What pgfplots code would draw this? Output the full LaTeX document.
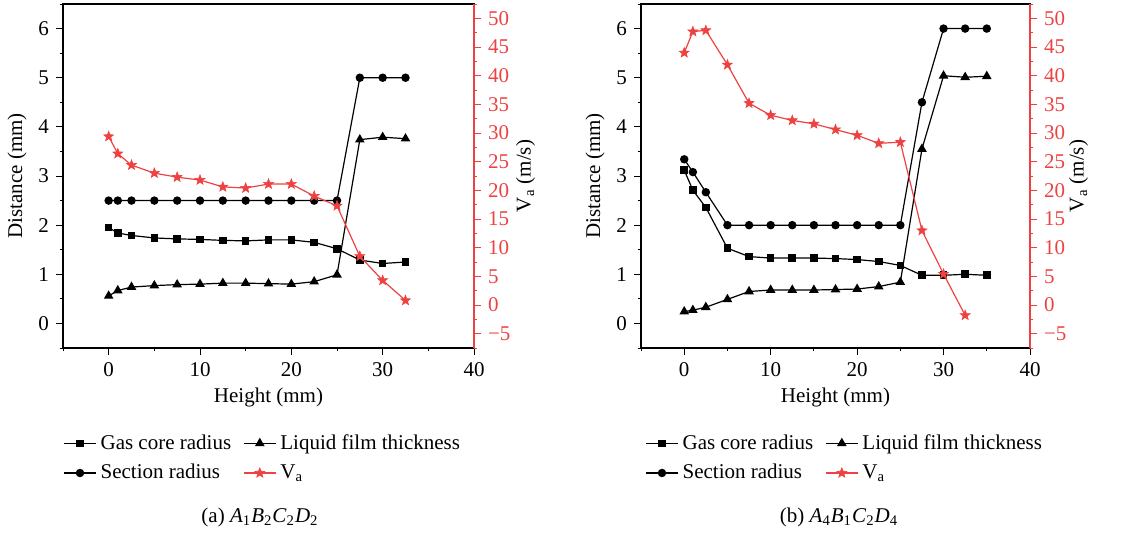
\documentclass[border=0pt]{standalone}
\usepackage{fontspec}
\setmainfont{Liberation Serif}
\usepackage{pgfplots}
\usepackage{pgfplotstable}
\pgfplotsset{compat=1.18}
\definecolor{vred}{RGB}{238,66,66}

\pgfdeclareplotmark{fstar}{%
  \pgfpathmoveto{\pgfpointpolar{90}{\pgfplotmarksize}}%
  \pgfpathlineto{\pgfpointpolar{126}{0.42\pgfplotmarksize}}%
  \pgfpathlineto{\pgfpointpolar{162}{\pgfplotmarksize}}%
  \pgfpathlineto{\pgfpointpolar{198}{0.42\pgfplotmarksize}}%
  \pgfpathlineto{\pgfpointpolar{234}{\pgfplotmarksize}}%
  \pgfpathlineto{\pgfpointpolar{270}{0.42\pgfplotmarksize}}%
  \pgfpathlineto{\pgfpointpolar{306}{\pgfplotmarksize}}%
  \pgfpathlineto{\pgfpointpolar{342}{0.42\pgfplotmarksize}}%
  \pgfpathlineto{\pgfpointpolar{18}{\pgfplotmarksize}}%
  \pgfpathlineto{\pgfpointpolar{54}{0.42\pgfplotmarksize}}%
  \pgfpathclose
  \pgfusepathqfillstroke}

\pgfplotstableread{
h    g     l     s     v
0    1.95  0.56  2.5   29.4
1    1.84  0.67  2.5   26.4
2.5  1.79  0.74  2.5   24.4
5    1.74  0.77  2.5   23.0
7.5  1.72  0.79  2.5   22.3
10   1.71  0.80  2.5   21.8
12.5 1.69  0.82  2.5   20.6
15   1.68  0.82  2.5   20.4
17.5 1.70  0.81  2.5   21.1
20   1.70  0.80  2.5   21.1
22.5 1.65  0.85  2.5   19.0
25   1.52  0.99  2.5   17.3
27.5 1.29  3.74  5.0   8.5
30   1.22  3.79  5.0   4.3
32.5 1.25  3.76  5.0   0.8
}\dataA

\pgfplotstableread{
h    g     l     s     v
0    3.12  0.24  3.34  44.0
1    2.71  0.27  3.08  47.7
2.5  2.36  0.33  2.67  47.9
5    1.53  0.49  2.00  41.9
7.5  1.36  0.65  2.00  35.2
10   1.33  0.68  2.00  33.1
12.5 1.33  0.68  2.00  32.2
15   1.33  0.68  2.00  31.6
17.5 1.32  0.69  2.00  30.6
20   1.30  0.70  2.00  29.6
22.5 1.26  0.75  2.00  28.2
25   1.18  0.84  2.00  28.4
27.5 0.98  3.55  4.50  13.0
30   0.98  5.04  6.00  5.4
32.5 1.00  5.01  6.00  -1.8
35   0.98  5.03  6.00  nan
}\dataB

\pgfplotsset{
  every axis/.append style={font=\fontsize{10.5}{12.5}\selectfont},
  leftax/.style={
    scale only axis, height=172pt,
    xmin=-5, xmax=40, ymin=-0.5, ymax=6.5,
    axis lines=box, xtick pos=bottom, ytick pos=left,
    xtick={0,10,...,40}, minor xtick={-5,5,15,25,35},
    ytick={0,...,6}, minor ytick={-0.5,0.5,...,6.5},
    tick align=outside, major tick length=3.5pt, minor tick length=1.7pt,
    every tick/.style={black, line width=0.5pt},
    axis line style={line width=0.6pt},
    /pgf/number format/assume math mode=true,
    xlabel={Height (mm)}, ylabel={Distance (mm)},
    xlabel style={yshift=1pt},
    ylabel style={yshift=-1pt},
    legend columns=2,
    legend cell align=left,
    legend style={draw=none, fill=none, anchor=north west,
      row sep=2pt,
      /tikz/every even column/.append style={column sep=4pt},
      font=\fontsize{10.5}{12.5}\selectfont},
    legend image code/.code={\draw[mark repeat=2,mark phase=2] plot coordinates {(0pt,0pt) (8pt,0pt) (16pt,0pt)};},
  },
  rightax/.style={
    scale only axis, height=172pt,
    xmin=-5, xmax=40, ymin=-7.5, ymax=52.5,
    axis x line=none, axis y line*=right,
    ytick={-5,0,...,50},
    yticklabels={−5,0,5,10,15,20,25,30,35,40,45,50},
    minor ytick={-7.5,-2.5,...,52.5},
    tick align=outside, major tick length=3.5pt, minor tick length=1.7pt,
    every tick/.style={vred, line width=0.5pt},
    axis line style={vred, line width=0.6pt},
    yticklabel style={text=vred},
    ylabel={V\textsubscript{a} (m/s)},
  },
  blk/.style={black, line width=0.6pt, mark options={solid, fill=black}},
  sq/.style={blk, mark=square*, mark size=1.6pt},
  tri/.style={blk, mark=triangle*, mark size=2.2pt},
  cir/.style={blk, mark=*, mark size=1.8pt},
  va/.style={vred, line width=0.6pt, mark=fstar, mark size=2.6pt, mark options={solid, fill=vred, draw=vred, line width=0.3pt}},
}

\begin{document}
\begin{tikzpicture}
\path (0,0) rectangle (570pt,-265pt);
% ---------- panel a ----------
\begin{axis}[leftax, at={(31.5pt,-174pt)}, width=205.5pt,
  legend style={at={(0,0)}, xshift=-3pt, yshift=-39pt}]
\addplot[sq] table[x=h,y=g] {\dataA};
\addplot[tri] table[x=h,y=l] {\dataA};
\addplot[cir] table[x=h,y=s] {\dataA};
\addlegendimage{va}
\legend{Gas core radius, Liquid film thickness, Section radius, V\textsubscript{a}}
\end{axis}
\begin{axis}[rightax, at={(31.5pt,-174pt)}, width=205.5pt, ylabel style={yshift=4pt}]
\addplot[va] table[x=h,y=v] {\dataA};
\end{axis}
% ---------- panel b ----------
\begin{axis}[leftax, at={(320.5pt,-174pt)}, width=194.5pt,
  legend style={at={(0,0)}, xshift=-1pt, yshift=-39pt}]
\addplot[sq] table[x=h,y=g] {\dataB};
\addplot[tri] table[x=h,y=l] {\dataB};
\addplot[cir] table[x=h,y=s] {\dataB};
\addlegendimage{va}
\legend{Gas core radius, Liquid film thickness, Section radius, V\textsubscript{a}}
\end{axis}
\begin{axis}[rightax, at={(320.5pt,-174pt)}, width=194.5pt, ylabel style={yshift=5.5pt}]
\addplot[va] table[x=h,y=v] {\dataB};
\end{axis}
\node[font=\fontsize{10.5}{12.5}\selectfont] at (130pt,-258.5pt) {(a) \textit{A}\textsubscript{1}\textit{B}\textsubscript{2}\textit{C}\textsubscript{2}\textit{D}\textsubscript{2}};
\node[font=\fontsize{10.5}{12.5}\selectfont] at (419.5pt,-258.5pt) {(b) \textit{A}\textsubscript{4}\textit{B}\textsubscript{1}\textit{C}\textsubscript{2}\textit{D}\textsubscript{4}};
\end{tikzpicture}
\end{document}
